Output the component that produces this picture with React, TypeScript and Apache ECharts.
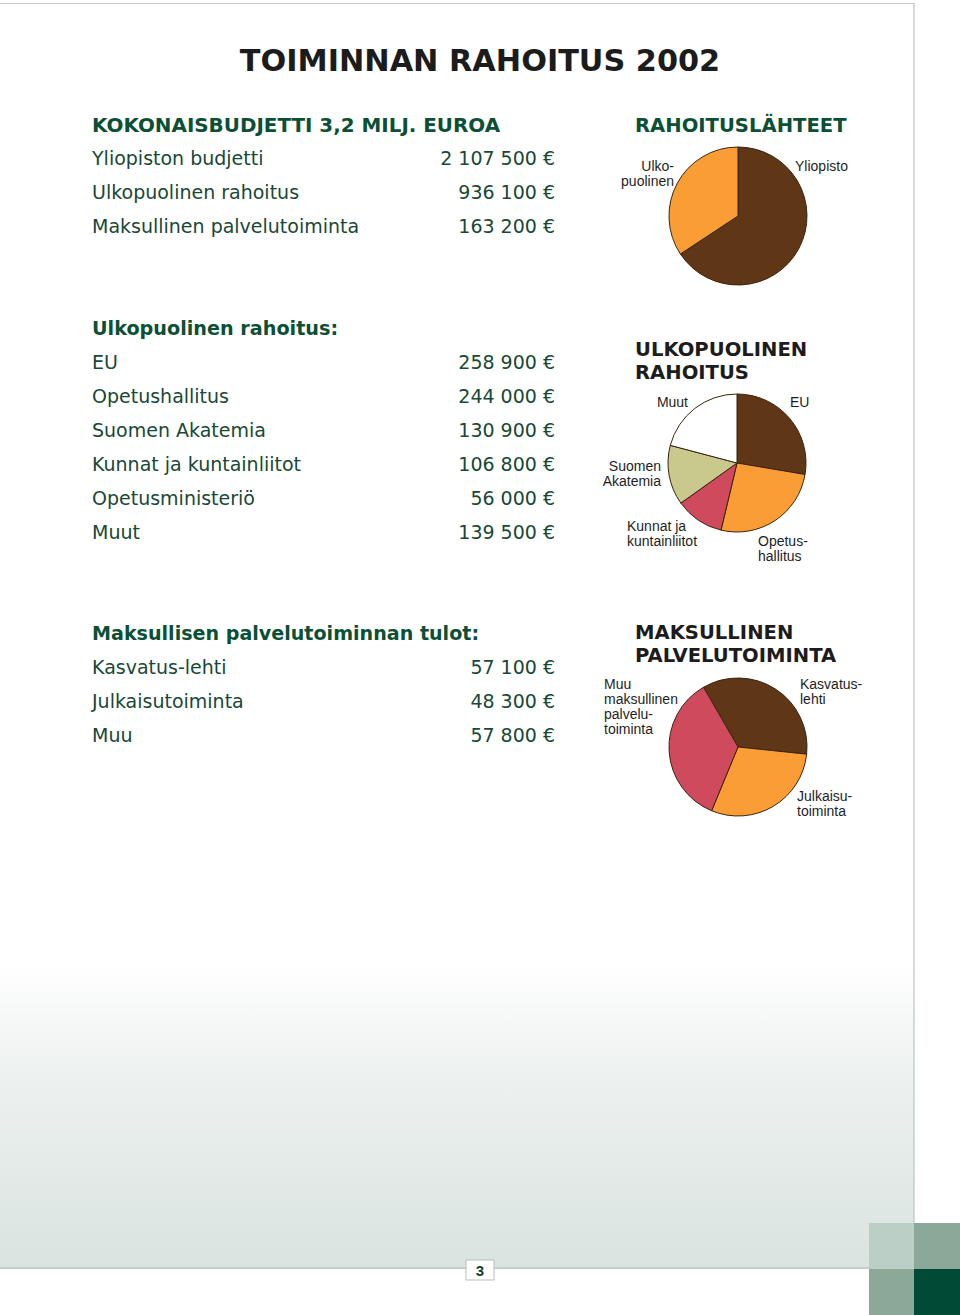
import React, { useEffect, useRef } from "react";
import * as echarts from "echarts";

// ---- data ----
const budgetLabels = ["Yliopiston budjetti", "Ulkopuolinen rahoitus", "Maksullinen palvelutoiminta"];
const budgetValues = [2107500, 936100, 163200];

const extLabels = ["EU", "Opetushallitus", "Suomen Akatemia", "Kunnat ja kuntainliitot", "Opetusministeriö", "Muut"];
const extValues = [258900, 244000, 130900, 106800, 56000, 139500];

const feeLabels = ["Kasvatus-lehti", "Julkaisutoiminta", "Muu"];
const feeValues = [57100, 48300, 57800];

// pie slice names (as printed next to the pies)
const pie1Names = ["Yliopisto", "Ulko-\npuolinen"];
const pie2Names = ["EU", "Opetus-\nhallitus", "Kunnat ja\nkuntainliitot", "Suomen\nAkatemia", "Muut"];
const pie3Names = ["Kasvatus-\nlehti", "Julkaisu-\ntoiminta", "Muu\nmaksullinen\npalvelu-\ntoiminta"];

// ---- styles ----
const BROWN = "#5f3616";
const ORANGE = "#fb9d35";
const RED = "#cf4a5d";
const KHAKI = "#c9c98e";
const WHITE = "#ffffff";
const HEAD_GREEN = "#0b4f35";
const ROW_GREEN = "#184836";
const VERDANA = "'DejaVu Sans', Verdana, sans-serif";
const ARIAL = "'Liberation Sans', Arial, Helvetica, sans-serif";

const pie1Colors = [BROWN, ORANGE];
const pie2Colors = [BROWN, ORANGE, RED, KHAKI, WHITE];
const pie3Colors = [BROWN, ORANGE, RED];

// label positions [x, top, align]
const pie1LabelPos: [number, number, string][] = [[795, 158, "left"], [674, 158, "right"]];
const pie2LabelPos: [number, number, string][] = [
  [790, 394, "left"], [758, 533, "left"], [627, 518, "left"], [661, 458, "right"], [688, 394, "right"],
];
const pie3LabelPos: [number, number, string][] = [[800, 676, "left"], [797, 788, "left"], [604, 676, "left"]];

const fmt = (v: number) => v.toString().replace(/\B(?=(\d{3})+(?!\d))/g, " ") + " €";

function rowTexts(labels: string[], values: number[], y0: number, step: number) {
  const out: any[] = [];
  labels.forEach((l, i) => {
    out.push({
      type: "text", x: 92, y: y0 + i * step,
      style: { text: l, fontFamily: VERDANA, fontSize: 19, fill: ROW_GREEN, textAlign: "left", textVerticalAlign: "middle" },
    });
    out.push({
      type: "text", x: 555, y: y0 + i * step,
      style: { text: fmt(values[i]), fontFamily: VERDANA, fontSize: 19, fill: ROW_GREEN, textAlign: "right", textVerticalAlign: "middle" },
    });
  });
  return out;
}

function head(text: string, x: number, y: number, color: string, size = 19.5) {
  return {
    type: "text", x, y,
    style: { text, fontFamily: VERDANA, fontSize: size, fontWeight: "bold", fill: color, textAlign: "left", textVerticalAlign: "middle" },
  };
}

function pieSeries(names: string[], values: number[], colors: string[], pos: [number, number, string][], center: number[], startAngle: number) {
  return {
    type: "pie",
    center,
    radius: 69,
    startAngle,
    clockwise: true,
    silent: true,
    avoidLabelOverlap: false,
    data: values.map((v, i) => ({ name: names[i], value: v, itemStyle: { color: colors[i] } })),
    itemStyle: { borderColor: "#3a2410", borderWidth: 1 },
    label: {
      show: true, formatter: "{b}", fontFamily: ARIAL, fontSize: 14, color: "#1e1e1e", lineHeight: 15,
    },
    labelLine: { show: false },
    labelLayout: (p: any) => {
      const q = pos[p.dataIndex];
      return { x: q[0], y: q[1], align: q[2], verticalAlign: "top" };
    },
  };
}

export default function App() {
  const ref = useRef<HTMLDivElement>(null);
  useEffect(() => {
    if (!ref.current) return;
    const chart = echarts.init(ref.current, undefined, { renderer: "svg" });

    const pie1Values = [budgetValues[0], budgetValues[1] + budgetValues[2]];
    const pie2Values = [extValues[0], extValues[1], extValues[3], extValues[2], extValues[4] + extValues[5]];
    const pie3Values = [feeValues[0], feeValues[1], feeValues[2]];

    const graphics: any[] = [
      // background gradient at bottom
      {
        type: "rect", z: -10, shape: { x: 0, y: 960, width: 914, height: 308 },
        style: {
          fill: new echarts.graphic.LinearGradient(0, 0, 0, 1, [
            { offset: 0, color: "#ffffff" },
            { offset: 0.35, color: "#eef2f0" },
            { offset: 1, color: "#d9e3df" },
          ]),
        },
      },
      { type: "line", z: -5, shape: { x1: 0, y1: 3.5, x2: 914, y2: 3.5 }, style: { stroke: "#c3cbc8", lineWidth: 1 } },
      { type: "line", z: -5, shape: { x1: 914, y1: 3, x2: 914, y2: 1223 }, style: { stroke: "#b9c4c0", lineWidth: 1.2 } },
      { type: "line", z: -5, shape: { x1: 0, y1: 1268, x2: 869, y2: 1268 }, style: { stroke: "#c4cfcb", lineWidth: 2 } },
      { type: "rect", z: -4, shape: { x: 869, y: 1223, width: 45, height: 46 }, style: { fill: "#bccfc7" } },
      { type: "rect", z: -4, shape: { x: 914, y: 1223, width: 46, height: 46 }, style: { fill: "#8ba898" } },
      { type: "rect", z: -4, shape: { x: 869, y: 1269, width: 45, height: 46 }, style: { fill: "#8ba898" } },
      { type: "rect", z: -4, shape: { x: 914, y: 1269, width: 46, height: 46 }, style: { fill: "#014a35" } },
      // page number
      { type: "rect", shape: { x: 466, y: 1260, width: 28, height: 20 }, style: { fill: "#ffffff", stroke: "#b5bfbb", lineWidth: 1 } },
      {
        type: "text", x: 480, y: 1270,
        style: { text: "3", fontFamily: ARIAL, fontSize: 15, fontWeight: "bold", fill: "#123d2e", textAlign: "center", textVerticalAlign: "middle" },
      },
      // title
      {
        type: "text", x: 480, y: 60,
        style: { text: "TOIMINNAN RAHOITUS 2002", fontFamily: VERDANA, fontSize: 30.3, fontWeight: "bold", fill: "#1c1c1c", textAlign: "center", textVerticalAlign: "middle" },
      },
      head("KOKONAISBUDJETTI 3,2 MILJ. EUROA", 92, 125, HEAD_GREEN, 19.9),
      head("RAHOITUSLÄHTEET", 635, 125, HEAD_GREEN, 19.6),
      ...rowTexts(budgetLabels, budgetValues, 158, 34),
      head("Ulkopuolinen rahoitus:", 92, 328, HEAD_GREEN, 19.2),
      ...rowTexts(extLabels, extValues, 362, 34),
      head("ULKOPUOLINEN", 635, 349, "#1c1c1c", 19.6),
      head("RAHOITUS", 635, 372, "#1c1c1c", 19.6),
      head("Maksullisen palvelutoiminnan tulot:", 92, 633, HEAD_GREEN, 19.1),
      ...rowTexts(feeLabels, feeValues, 667, 34),
      head("MAKSULLINEN", 635, 632, "#1c1c1c", 19.6),
      head("PALVELUTOIMINTA", 635, 655, "#1c1c1c", 19.6),
    ];

    chart.setOption({
      animation: false,
      backgroundColor: "#ffffff",
      graphic: graphics,
      series: [
        pieSeries(pie1Names, pie1Values, pie1Colors, pie1LabelPos, [738, 216], 90),
        pieSeries(pie2Names, pie2Values, pie2Colors, pie2LabelPos, [737, 463], 90),
        pieSeries(pie3Names, pie3Values, pie3Colors, pie3LabelPos, [738, 747], 120),
      ],
    });
    return () => chart.dispose();
  }, []);
  return <div ref={ref} style={{ position: "absolute", left: 0, top: 0, width: 960, height: 1315 }} />;
}
